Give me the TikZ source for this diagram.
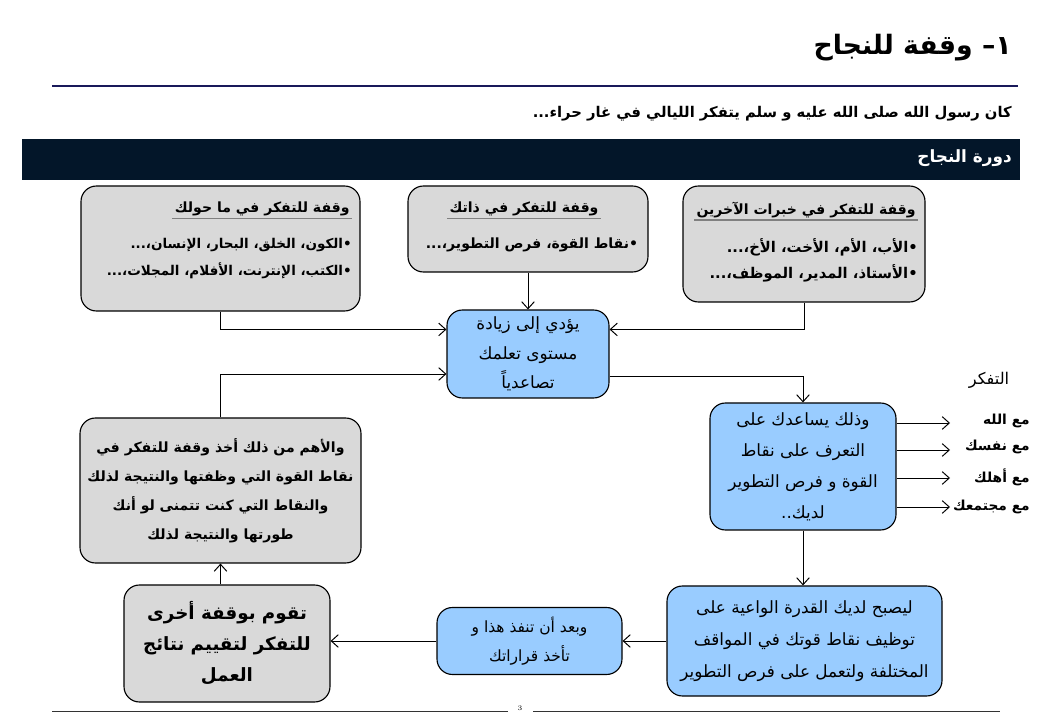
\documentclass[tikz,border=0pt]{standalone}
\usepackage{fontspec}
\newfontfamily\arabicfont[Script=Arabic]{DejaVu Sans}
\TeXXeTstate=1
\usetikzlibrary{arrows.meta}
\newcommand{\ar}[1]{{\arabicfont\beginR #1\endR}}
\definecolor{boxgray}{RGB}{217,217,217}
\definecolor{boxblue}{RGB}{153,204,255}
\definecolor{bandcol}{RGB}{3,22,41}
\definecolor{navyline}{RGB}{25,25,90}
\tikzset{
  arr/.style={draw=black, line width=0.7pt, -{Straight Barb[length=5pt,width=9pt]}},
  basebox/.style={draw=black, line width=0.8pt, rounded corners=11pt, inner sep=0pt, align=center},
  graybox/.style={basebox, fill=boxgray},
  bluebox/.style={basebox, fill=boxblue},
  boldtxt/.style={font=\fontsize{10}{19}\selectfont\bfseries, align=right},
  regtxt/.style={font=\fontsize{12}{21}\selectfont, align=center},
  lbl/.style={font=\fontsize{9.8}{12}\selectfont\bfseries, anchor=east, inner sep=0pt}
}
\begin{document}
\begin{tikzpicture}[x=0.025cm,y=-0.025cm]
\useasboundingbox (0,0) rectangle (1040,720);
\fill[white] (0,0) rectangle (1040,720);
% header
\node[font=\fontsize{19}{22}\selectfont\bfseries, anchor=east, inner sep=0pt] (title) at (1012,48) {\ar{١– وقفة للنجاح}};
\draw[navyline, line width=1.4pt] (52,86) -- (1018,86);
\node[font=\fontsize{10.5}{14}\selectfont\bfseries, anchor=east, inner sep=0pt] (sub) at (1012,114) {\ar{كان رسول الله صلى الله عليه و سلم يتفكر  الليالي في غار حراء...}};
\node[fill=bandcol, minimum width={998*0.025cm}, minimum height={41*0.025cm}, inner sep=0pt, anchor=north west] (band) at (22,139) {};
\node[font=\fontsize{12}{14}\selectfont\bfseries, text=white, anchor=east, inner sep=0pt] (bandtxt) at (1012,158) {\ar{دورة النجاح}};
% top boxes
\node[graybox, minimum width={279*0.025cm}, minimum height={125*0.025cm}] (tl) at (220.5,248.5) {};
\node[graybox, minimum width={240*0.025cm}, minimum height={86*0.025cm}] (tm) at (528,229) {};
\node[graybox, minimum width={242*0.025cm}, minimum height={116*0.025cm}] (tr) at (804,244) {};
% titles and bullets
\node[boldtxt, anchor=east, inner sep=1.5pt] (tlt) at (352,209) {\ar{وقفة للتفكر في ما حولك}};
\draw[gray, line width=1.3pt] (tlt.south west) -- (tlt.south east);
\node[boldtxt, font=\fontsize{9.6}{19}\selectfont\bfseries, anchor=north east, inner sep=0pt] (tlb) at (352,238) {\ar{•الكون، الخلق، البحار، الإنسان،...}\\\ar{•الكتب، الإنترنت، الأفلام، المجلات،...}};
\node[boldtxt, inner sep=1.5pt] (tmt) at (524,209) {\ar{وقفة للتفكر في ذاتك}};
\draw[gray, line width=1.3pt] (tmt.south west) -- (tmt.south east);
\node[boldtxt, inner sep=0pt] (tmb) at (532,245) {\ar{•نقاط القوة، فرص التطوير،...}};
\node[boldtxt, anchor=east, inner sep=1.5pt] (trt) at (918,210) {\ar{وقفة للتفكر في خبرات الآخرين}};
\draw[gray, line width=1.3pt] (trt.south west) -- (trt.south east);
\node[boldtxt, font=\fontsize{10.5}{19}\selectfont\bfseries, anchor=north east, inner sep=0pt] (trb) at (918,238) {\ar{•الأب، الأم، الأخت، الأخ،...}\\\ar{•الأستاذ، المدير، الموظف،...}};
% central
\node[bluebox, regtxt, minimum width={162*0.025cm}, minimum height={88*0.025cm}] (cb) at (528,354) {\ar{يؤدي إلى زيادة}\\\ar{مستوى تعلمك}\\\ar{تصاعدياً}};
\node[bluebox, regtxt, font=\fontsize{12}{22}\selectfont, minimum width={186*0.025cm}, minimum height={127*0.025cm}] (mr) at (803,466.5) {\ar{وذلك يساعدك على}\\\ar{التعرف على نقاط}\\\ar{القوة و فرص التطوير}\\\ar{لديك..}};
\node[bluebox, regtxt, font=\fontsize{12}{23}\selectfont, minimum width={275*0.025cm}, minimum height={110*0.025cm}] (br) at (804.5,641) {\ar{ليصبح لديك القدرة الواعية على}\\\ar{توظيف نقاط قوتك في المواقف}\\\ar{المختلفة ولتعمل على فرص التطوير}};
\node[bluebox, regtxt, font=\fontsize{11}{21}\selectfont, minimum width={185*0.025cm}, minimum height={67*0.025cm}] (bm) at (529.5,641) {\ar{وبعد أن تنفذ هذا و}\\\ar{تأخذ قراراتك}};
\node[graybox, font=\fontsize{13}{22}\selectfont\bfseries, minimum width={206*0.025cm}, minimum height={117*0.025cm}] (bl) at (227,643.5) {\ar{تقوم بوقفة أخرى}\\\ar{للتفكر لتقييم نتائج}\\\ar{العمل}};
\node[graybox, font=\fontsize{10}{20.5}\selectfont\bfseries, minimum width={281*0.025cm}, minimum height={145*0.025cm}] (ml) at (220.5,490.5) {\ar{والأهم من ذلك أخذ وقفة للتفكر في}\\\ar{نقاط القوة التي وظفتها والنتيجة لذلك}\\\ar{والنقاط التي كنت تتمنى لو أنك}\\\ar{طورتها والنتيجة لذلك}};
% right labels
\node[font=\fontsize{11.5}{13}\selectfont, anchor=center, inner sep=0pt] (tafk) at (989,380) {\ar{التفكر}};
\node[lbl] (l1) at (1030,421) {\ar{مع الله}};
\node[lbl] (l2) at (1030,447) {\ar{مع نفسك}};
\node[lbl] (l3) at (1030,477) {\ar{مع أهلك}};
\node[lbl] (l4) at (1030,507) {\ar{مع مجتمعك}};
\coordinate (e1) at (950,423);
\coordinate (e2) at (950,450);
\coordinate (e3) at (950,478);
\coordinate (e4) at (950,507);
% connectors
\draw[arr] (tl.south) |- ([yshift=-0.5cm]cb.north west);
\draw[arr] (tr.south) |- ([yshift=-0.5cm]cb.north east);
\draw[arr] (tm.south) -- (cb.north);
\draw[arr] ([yshift=-0.55cm]cb.east) -| (mr.north);
\draw[arr] (mr.south) -- (mr.south |- br.north);
\draw[arr] (br.west) -- (bm.east);
\draw[arr] (bm.west) -- (bm.west -| bl.east);
\draw[arr] (ml.south |- bl.north) -- (ml.south);
\draw[arr] (ml.north) |- ([yshift=-0.5cm]cb.west);
\draw[arr] (mr.east |- e1) -- (e1);
\draw[arr] (mr.east |- e2) -- (e2);
\draw[arr] (mr.east |- e3) -- (e3);
\draw[arr] (mr.east |- e4) -- (e4);
% footer
\node[font=\fontsize{5}{6}\selectfont, inner sep=0pt] (pg) at (520,708) {3};
\draw[black!80, line width=0.5pt] (52,711) -- (508,711);
\draw[black!80, line width=0.5pt] (533,711) -- (1000,711);
\end{tikzpicture}
\end{document}
